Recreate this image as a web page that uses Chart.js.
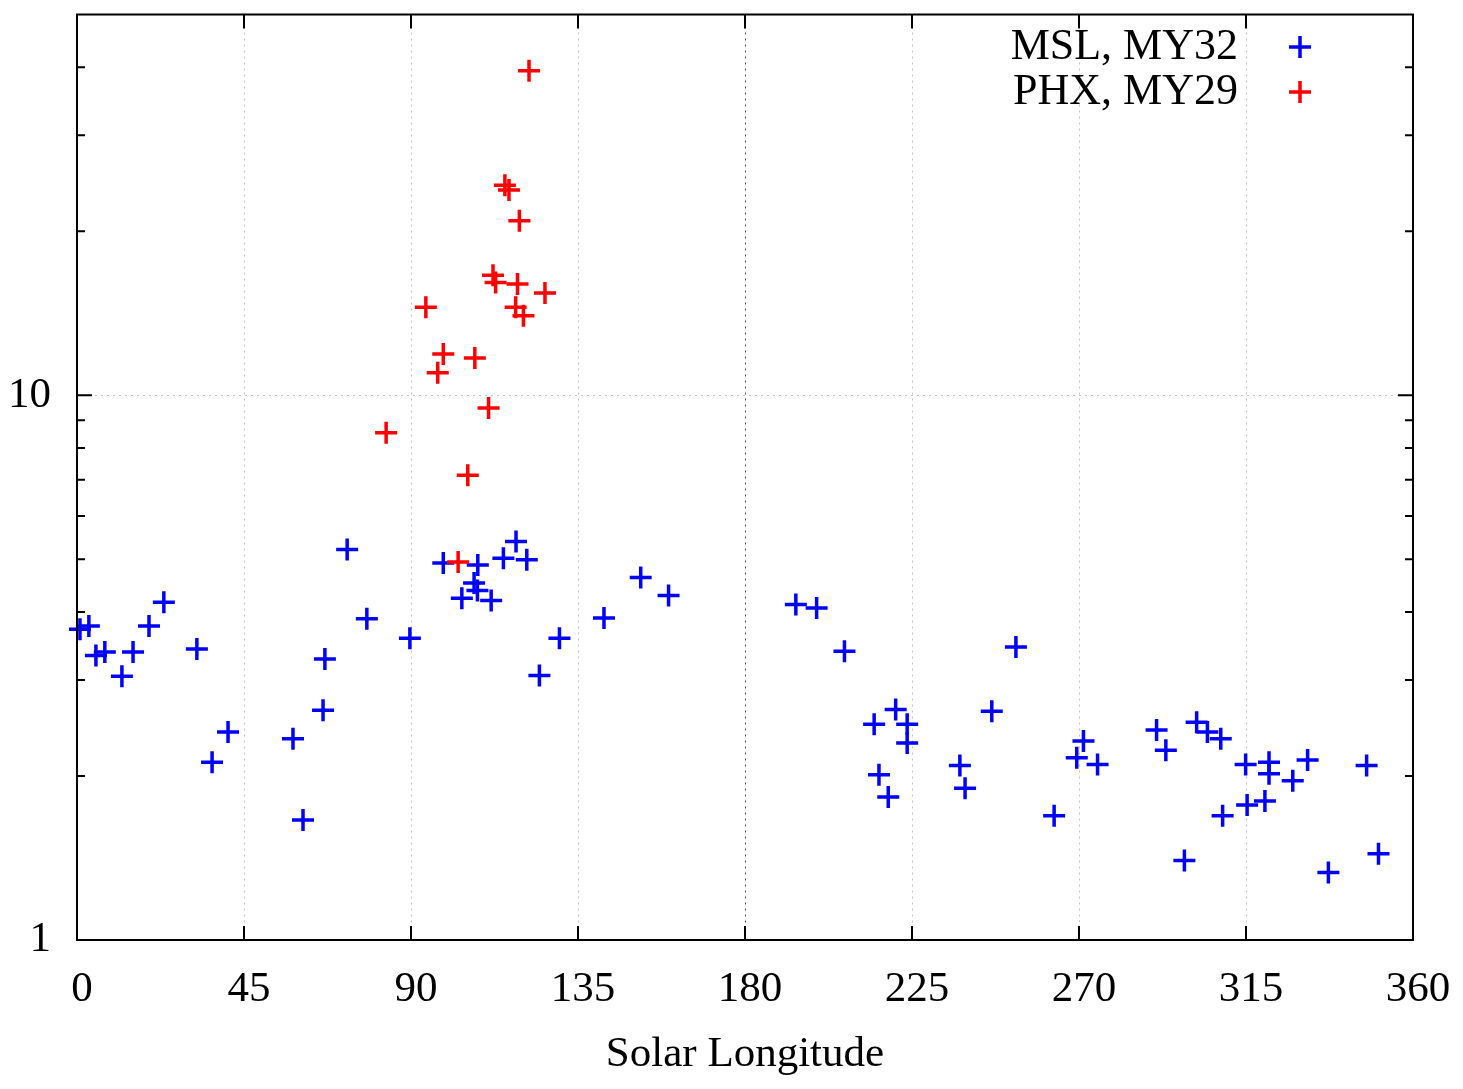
<!DOCTYPE html>
<html>
<head>
<meta charset="utf-8">
<script src="https://cdn.jsdelivr.net/npm/chart.js@4.4.0/dist/chart.umd.min.js"></script>
<style>
body { margin: 0; background: #fff; }
</style>
</head>
<body>
<canvas id="dustChart" width="1463" height="1089"></canvas>
<script>
// MSL, MY32 (blue)
var mslLs = [0.8, 3.2, 5.1, 7.5, 15.1, 12.1, 19.4, 23.4, 32.3, 36.4, 40.7, 58.2, 60.9, 66.3, 66.8, 72.8, 78.1, 89.7,
    98.7, 108.0, 107.0, 107.9, 103.7, 111.6, 114.9, 118.3, 121.2, 130.0, 124.6, 142.0, 151.9, 159.4,
    193.7, 199.3, 206.8, 220.6, 214.8, 223.7, 223.7, 216.1, 218.6, 237.9, 239.3, 246.5, 253.0, 263.3,
    271.2, 269.4, 275.0, 290.9, 293.4, 301.7, 304.6, 308.2, 314.9, 321.2, 321.2, 327.6, 331.6, 347.5,
    308.7, 315.3, 320.1, 298.4, 337.2, 350.7];
var mslVal = [3.72, 3.77, 3.33, 3.38, 3.38, 3.05, 3.77, 4.17, 3.42, 2.12, 2.41, 2.34, 1.66, 2.64, 3.28, 5.21, 3.89, 3.58,
    4.92, 4.88, 4.52, 4.38, 4.24, 4.20, 5.02, 5.39, 4.99, 3.58, 3.06, 3.90, 4.63, 4.29,
    4.13, 4.07, 3.39, 2.65, 2.49, 2.49, 2.30, 2.01, 1.83, 2.09, 1.90, 2.63, 3.45, 1.69,
    2.32, 2.16, 2.10, 2.43, 2.23, 2.51, 2.41, 2.34, 2.10, 2.12, 2.02, 1.96, 2.14, 2.09,
    1.69, 1.77, 1.80, 1.40, 1.33, 1.44];

// PHX, MY29 (red)
var phxLs = [121.8, 115.3, 116.4, 119.2, 112.1, 112.8, 118.7, 126.1, 118.2, 120.3, 94.0, 98.7, 97.2, 107.2, 110.9, 83.3, 105.3, 102.7];
var phxVal = [39.4, 24.3, 23.8, 20.9, 16.6, 16.1, 16.0, 15.4, 14.5, 14.0, 14.5, 11.9, 11.0, 11.7, 9.48, 8.53, 7.13, 4.94];

var xTicks = [0, 45, 90, 135, 180, 225, 270, 315, 360];
var yTicks = [1, 2, 3, 4, 5, 6, 7, 8, 9, 10, 20, 30, 40];
var yLabels = [1, 10];

var serif = '"Liberation Serif", "DejaVu Serif", serif';

function toPoints(xs, ys) {
    return xs.map(function(x, i) { return { x: x, y: ys[i] }; });
}

// box, inward tick marks and the key
var frame = {
    id: 'frame',
    afterDatasetsDraw: function(chart) {
        var ctx = chart.ctx, a = chart.chartArea;
        var xs = chart.scales.x, ys = chart.scales.y;
        ctx.save();
        ctx.strokeStyle = '#000';
        ctx.lineWidth = 2;
        ctx.strokeRect(a.left, a.top, a.right - a.left, a.bottom - a.top);
        ctx.beginPath();
        xTicks.forEach(function(v) {
            var px = xs.getPixelForValue(v);
            ctx.moveTo(px, a.bottom); ctx.lineTo(px, a.bottom - 14);
            ctx.moveTo(px, a.top); ctx.lineTo(px, a.top + 14);
        });
        yTicks.forEach(function(v) {
            var py = ys.getPixelForValue(v);
            var len = yLabels.indexOf(v) >= 0 ? 15 : 8;
            ctx.moveTo(a.left, py); ctx.lineTo(a.left + len, py);
            ctx.moveTo(a.right, py); ctx.lineTo(a.right - len, py);
        });
        ctx.stroke();

        ctx.font = '44px ' + serif;
        ctx.fillStyle = '#000';
        ctx.textAlign = 'right';
        ctx.textBaseline = 'middle';
        chart.data.datasets.forEach(function(ds, i) {
            var y = 47 + i * 45;
            ctx.fillText(ds.label, 1238, y);
            ctx.strokeStyle = ds.borderColor;
            ctx.lineWidth = 3.5;
            ctx.beginPath();
            ctx.moveTo(1289, y); ctx.lineTo(1311, y);
            ctx.moveTo(1300, y - 11); ctx.lineTo(1300, y + 11);
            ctx.stroke();
        });
        ctx.restore();
    }
};

new Chart(document.getElementById('dustChart').getContext('2d'), {
    type: 'scatter',
    plugins: [frame],
    data: {
        datasets: [{
            label: 'MSL, MY32',
            data: toPoints(mslLs, mslVal),
            borderColor: '#0000ff',
            backgroundColor: '#0000ff',
            pointStyle: 'cross',
            pointRadius: 11,
            pointBorderWidth: 3.5,
            clip: false,
            order: 1
        }, {
            label: 'PHX, MY29',
            data: toPoints(phxLs, phxVal),
            borderColor: '#ff0000',
            backgroundColor: '#ff0000',
            pointStyle: 'cross',
            pointRadius: 11,
            pointBorderWidth: 3.5,
            clip: false,
            order: 0
        }]
    },
    options: {
        responsive: false,
        animation: false,
        layout: { padding: { top: 10, right: 50, left: 0, bottom: 0 } },
        plugins: {
            legend: { display: false },
            tooltip: { enabled: false }
        },
        scales: {
            x: {
                type: 'linear',
                min: 0,
                max: 360,
                afterFit: function(s) {
                    s.height = 149;
                    s.paddingLeft = 0;
                    s.paddingRight = 0;
                },
                afterBuildTicks: function(s) {
                    s.ticks = xTicks.map(function(v) { return { value: v }; });
                },
                ticks: {
                    font: { family: serif, size: 43 },
                    color: '#000',
                    padding: 24,
                    labelOffset: 5,
                    maxRotation: 0,
                    autoSkip: false
                },
                grid: {
                    drawTicks: false,
                    lineWidth: 1,
                    color: function(c) {
                        var v = c.tick && c.tick.value;
                        if (v === 0 || v === 360) return 'rgba(0,0,0,0)';
                        return v === 180 ? '#555' : '#c0c0c0';
                    }
                },
                border: { display: false, dash: [2, 4] },
                title: {
                    display: true,
                    text: 'Solar Longitude',
                    font: { family: serif, size: 43 },
                    color: '#000',
                    padding: { top: 0, bottom: 8 }
                }
            },
            y: {
                type: 'logarithmic',
                min: 1,
                max: 50,
                afterFit: function(s) {
                    s.width = 77;
                    s.paddingTop = 0;
                    s.paddingBottom = 0;
                },
                afterBuildTicks: function(s) {
                    s.ticks = yTicks.map(function(v) { return { value: v }; });
                },
                ticks: {
                    font: { family: serif, size: 43 },
                    color: '#000',
                    padding: 26,
                    autoSkip: false,
                    callback: function(v) {
                        return yLabels.indexOf(v) >= 0 ? String(v) : '';
                    }
                },
                grid: {
                    drawTicks: false,
                    lineWidth: 1,
                    color: function(c) {
                        return c.tick && c.tick.value === 10 ? '#c0c0c0' : 'rgba(0,0,0,0)';
                    }
                },
                border: { display: false, dash: [2, 4] }
            }
        }
    }
});
</script>
</body>
</html>
